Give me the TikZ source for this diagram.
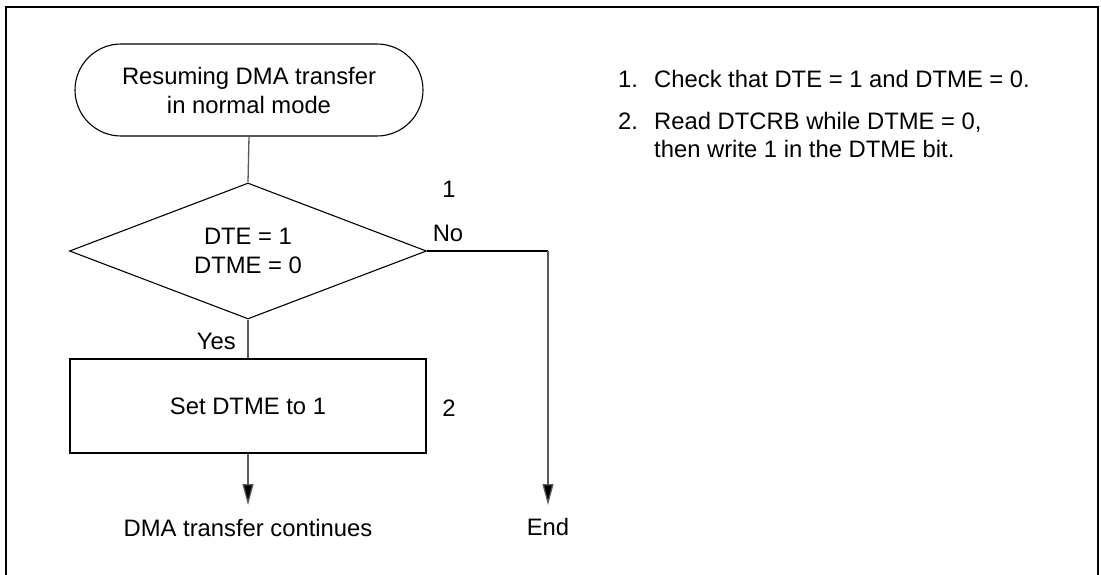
\documentclass[tikz,border=0pt]{standalone}
\usepackage{fontspec}
\setmainfont{Liberation Sans}
\usetikzlibrary{shapes.geometric,arrows.meta}
\definecolor{conn}{RGB}{90,90,90}
\tikzset{
  shapeline/.style={draw=black,line width=1.1pt},
  connline/.style={draw=conn,line width=1.3pt},
  arrowline/.style={connline,-{Triangle[length=21pt,width=11pt,fill=black]}},
  lbl/.style={inner sep=0pt,anchor=base},
  txt/.style={inner sep=0pt,anchor=base west}
}
\begin{document}
\begin{tikzpicture}[x=1pt,y=-1pt,font=\fontsize{23.8}{29}\selectfont]
\useasboundingbox (0,0) rectangle (1101,575);
% frame
\draw[line width=2pt,line cap=butt] (6,577) -- (6,7.3) -- (1098,7.3) -- (1098,577);
% nodes
\node[shapeline,rectangle,rounded corners=46pt,minimum width=348pt,minimum height=92pt,inner sep=0pt,align=center] (term) at (249,90) {Resuming DMA transfer\\in normal mode};
\node[shapeline,diamond,aspect=2.625,minimum width=357pt,minimum height=136pt,inner sep=0pt,align=center] (dec) at (248,251) {DTE = 1\\DTME = 0};
\node[shapeline,rectangle,minimum width=356pt,minimum height=94pt,inner sep=0pt] (box) at (248,406) {Set DTME to 1};
\coordinate (tip1) at (248,505);
\coordinate (corner) at (548,251);
\coordinate (tip2) at (548,505);
% connectors
\draw[connline] (term.south) -- (dec.north);
\draw[connline] (dec.south) -- (box.north);
\draw[arrowline] (box.south) -- (tip1);
\draw[shapeline] (dec.east) -- (corner);
\draw[arrowline] (corner) -- (tip2);
% labels
\node[lbl] (one) at (449,197) {1};
\node[lbl] (no) at (448,241) {No};
\node[inner sep=0pt,anchor=base east] (yes) at (236,349) {Yes};
\node[lbl] (two) at (449,416) {2};
\node[lbl] (cont) at (248,536) {DMA transfer continues};
\node[lbl] (endn) at (548,535) {End};
% notes
\node[txt] (n1) at (618,88) {1.};
\node[txt] (t1) at (654,88) {Check that DTE = 1 and DTME = 0.};
\node[txt] (n2) at (618,130) {2.};
\node[txt] (t2) at (654,130) {Read DTCRB while DTME = 0,};
\node[txt] (t3) at (654,158) {then write 1 in the DTME bit.};
\end{tikzpicture}
\end{document}
